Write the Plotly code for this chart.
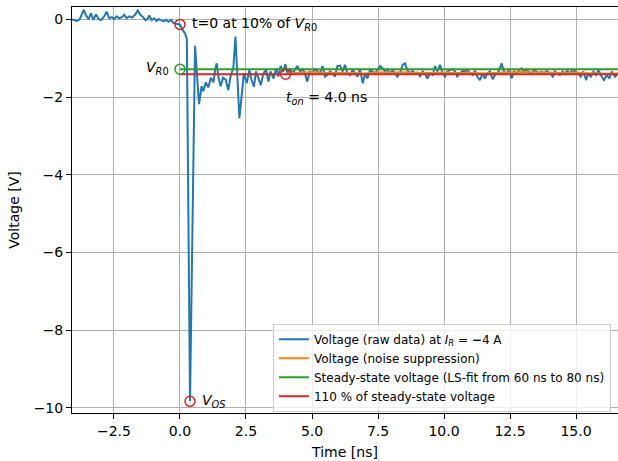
import plotly.graph_objects as go

# ---- data (time in ns, voltage in V) ----
t_raw = [-4.10, -4.06, -3.91, -3.81, -3.72, -3.64, -3.56, -3.46, -3.37, -3.28, -3.18, -3.08, -2.99,
         -2.88, -2.78, -2.68, -2.58, -2.49, -2.40, -2.30, -2.20, -2.11, -2.02, -1.92, -1.82,
         -1.70, -1.60, -1.50, -1.40, -1.31, -1.23, -1.16, -1.07, -0.98, -0.89, -0.81, -0.72,
         -0.62, -0.53, -0.44, -0.34, -0.25, -0.15, -0.06, 0.00,
         0.10, 0.19, 0.26, 0.38, 0.57, 0.72, 0.82, 0.88, 0.98, 1.07, 1.17, 1.27, 1.33, 1.39,
         1.46, 1.54, 1.63, 1.73, 1.83, 1.92, 2.02, 2.10, 2.25,
         2.34, 2.42, 2.53, 2.63, 2.71, 2.80, 2.88, 2.97, 3.06, 3.16, 3.26, 3.35, 3.43, 3.54,
         3.64, 3.73, 3.81, 3.91, 3.99, 4.07, 4.17, 4.27, 4.36, 4.44, 4.55, 4.65, 4.73, 4.82,
         4.92, 5.03, 5.11, 5.20, 5.30, 5.40, 5.49, 5.58, 5.68, 5.78, 5.87, 5.96, 6.06, 6.16,
         6.25, 6.34, 6.44, 6.54, 6.63, 6.72, 6.82, 6.92, 7.01, 7.10, 7.20, 7.30, 7.39, 7.47,
         7.58, 7.68, 7.77, 7.85, 7.95, 8.06, 8.14, 8.23, 8.33, 8.43, 8.52, 8.61, 8.71, 8.81,
         8.90, 8.99, 9.09, 9.19, 9.28, 9.37, 9.47, 9.57, 9.66, 9.75, 9.85, 9.95, 10.04, 10.13,
         10.23, 10.33, 10.42, 10.50, 10.61, 10.71, 10.80, 10.88, 10.99, 11.09, 11.17, 11.26,
         11.36, 11.46, 11.55, 11.64, 11.74, 11.84, 11.93, 12.02, 12.12, 12.18, 12.27, 12.37,
         12.47, 12.56, 12.65, 12.75, 12.85, 12.94, 13.03, 13.13, 13.23, 13.32, 13.41, 13.51,
         13.61, 13.70, 13.79, 13.89, 14.02, 14.12, 14.20, 14.29, 14.39, 14.49, 14.58, 14.67,
         14.77, 14.87, 14.96, 15.09, 15.18, 15.28, 15.38, 15.47, 15.56, 15.66, 15.76, 15.85,
         15.97, 16.06, 16.16, 16.26, 16.35, 16.48, 16.59, 16.70]
v_raw = [0.00, -0.01, -0.04, -0.01, 0.12, 0.25, 0.10, 0.01, 0.16, -0.01, 0.13, 0.01, -0.02,
         0.07, 0.20, 0.03, 0.06, 0.01, 0.08, 0.03, 0.06, 0.12, 0.03, 0.08, 0.05,
         0.12, 0.23, 0.12, 0.06, -0.02, 0.01, 0.10, -0.02, 0.03, -0.04, 0.01, -0.02,
         -0.05, -0.01, -0.06, -0.01, -0.09, -0.11, -0.12, -0.13,
         -0.27, -0.36, -0.50, -9.83, -0.68, -2.18, -1.72, -1.85, -1.62, -1.75, -1.50, -1.62, -1.30, -1.13,
         -1.50, -1.72, -1.50, -1.55, -1.82, -1.45, -1.25, -0.44, -2.55,
         -1.82, -1.39, -1.64, -1.30, -1.56, -1.73, -1.34, -1.52, -1.69, -1.39, -1.30, -1.60, -1.34, -1.52,
         -1.26, -1.47, -1.20, -1.34, -1.15, -1.39, -1.26, -1.39, -1.30, -1.20, -1.34, -1.28, -1.39, -1.60,
         -1.34, -1.39, -1.28, -1.34, -1.39, -1.20, -1.47, -1.43, -1.34, -1.39, -1.47, -1.20, -1.19, -1.34,
         -1.17, -1.39, -1.43, -1.30, -1.39, -1.47, -1.28, -1.64, -1.39, -1.52, -1.30, -1.34, -1.39, -1.30,
         -1.20, -1.26, -1.34, -1.28, -1.39, -1.30, -1.39, -1.47, -1.39, -1.17, -1.13, -1.30, -1.39, -1.32,
         -1.39, -1.37, -1.46, -1.34, -1.39, -1.52, -1.39, -1.43, -1.20, -1.34, -1.17, -1.39, -1.47, -1.34,
         -1.30, -1.28, -1.34, -1.47, -1.39, -1.32, -1.34, -1.30, -1.39, -1.43, -1.32, -1.47,
         -1.56, -1.39, -1.52, -1.39, -1.34, -1.54, -1.43, -1.39, -1.26, -1.13, -1.34, -1.39,
         -1.30, -1.52, -1.34, -1.39, -1.30, -1.26, -1.34, -1.28, -1.37, -1.39, -1.30, -1.34,
         -1.39, -1.34, -1.39, -1.32, -1.39, -1.47, -1.34, -1.39, -1.43, -1.34, -1.39, -1.32,
         -1.39, -1.30, -1.34, -1.39, -1.47, -1.34, -1.56, -1.39, -1.47, -1.34, -1.43, -1.30,
         -1.47, -1.56, -1.43, -1.52, -1.34, -1.47, -1.39, -1.42]

t_filt = [4.0, 4.5, 5.0, 5.5, 6.0, 6.5, 7.0, 7.5, 8.0, 8.5, 9.0, 9.5, 10.0, 10.5, 11.0,
          11.5, 12.0, 12.5, 13.0, 13.5, 14.0, 14.5, 15.0, 15.5, 16.0, 16.7]
v_filt = [-1.40, -1.37, -1.36, -1.38, -1.37, -1.38, -1.39, -1.36, -1.37, -1.36, -1.38, -1.38,
          -1.37, -1.38, -1.37, -1.39, -1.37, -1.36, -1.35, -1.36, -1.37, -1.38, -1.37, -1.39,
          -1.40, -1.39]

t_steady = [0.0, 16.7]
v_r0 = -1.28
v_steady = [v_r0, v_r0]
v_110 = [1.1 * v_r0, 1.1 * v_r0]

t0, v_t0 = 0.0, -0.128        # t=0 at 10 % of V_R0
t_on, v_on = 4.0, 1.1 * v_r0  # turn-on time
t_os, v_os = 0.38, -9.83      # overshoot

x_ticks = [-2.5, 0.0, 2.5, 5.0, 7.5, 10.0, 12.5, 15.0]
y_ticks = [-10, -8, -6, -4, -2, 0]

BLUE, ORANGE, GREEN, RED = "#1f77b4", "#ff7f0e", "#2ca02c", "#d62728"
FONT = "DejaVu Sans"

fig = go.Figure()
fig.add_trace(go.Scatter(x=t_raw, y=v_raw, mode="lines", line=dict(color=BLUE, width=2),
                         name="Voltage (raw data) at <i>I</i><sub><i>R</i></sub> = <b>−</b>4 A"))
fig.add_trace(go.Scatter(x=t_filt, y=v_filt, mode="lines", line=dict(color=ORANGE, width=2),
                         name="Voltage (noise suppression)"))
fig.add_trace(go.Scatter(x=t_steady, y=v_steady, mode="lines", line=dict(color=GREEN, width=2),
                         name="Steady-state voltage (LS-fit from 60 ns to 80 ns)"))
fig.add_trace(go.Scatter(x=t_steady, y=v_110, mode="lines", line=dict(color=RED, width=2),
                         name="110 % of steady-state voltage"))
fig.add_trace(go.Scatter(x=[t0, t_on, t_os], y=[v_t0, v_on, v_os], mode="markers",
                         marker=dict(symbol="circle-open", size=10, color=RED, line=dict(width=1.5)),
                         showlegend=False, hoverinfo="skip"))
fig.add_trace(go.Scatter(x=[t0], y=[v_r0], mode="markers",
                         marker=dict(symbol="circle-open", size=10, color=GREEN, line=dict(width=1.5)),
                         showlegend=False, hoverinfo="skip"))

ann_font = dict(family=FONT, size=14, color="black")
fig.add_annotation(x=t0, y=v_t0, text="t=0 at 10% of <i>V</i><sub><i>R</i>0</sub>", showarrow=False,
                   xanchor="left", yanchor="middle", xshift=10, yshift=0, font=ann_font)
fig.add_annotation(x=t0, y=v_r0, text="<i>V</i><sub><i>R</i>0</sub>", showarrow=False,
                   xanchor="right", yanchor="middle", xshift=-9, yshift=1, font=ann_font)
fig.add_annotation(x=t_on, y=v_on, text="<i>t</i><sub><i>on</i></sub> = 4.0 ns", showarrow=False,
                   xanchor="left", yanchor="middle", xshift=-2, yshift=-24, font=ann_font)
fig.add_annotation(x=t_os, y=v_os, text="<i>V</i><sub><i>OS</i></sub>", showarrow=False,
                   xanchor="left", yanchor="middle", xshift=10, yshift=0, font=ann_font)

fig.update_layout(
    width=618, height=461,
    margin=dict(l=72, r=0, t=7, b=48),
    paper_bgcolor="white", plot_bgcolor="white",
    font=dict(family=FONT, size=14, color="black"),
    showlegend=True,
    legend=dict(x=0.368, y=0.22, xanchor="left", yanchor="top",
                bgcolor="rgba(255,255,255,0.8)", bordercolor="#cccccc", borderwidth=1,
                font=dict(family=FONT, size=12), itemwidth=30, tracegroupgap=0),
)
fig.update_xaxes(range=[-4.09, 16.59], tickvals=x_ticks, tickformat=".1f",
                 showgrid=True, gridcolor="#b0b0b0", gridwidth=1,
                 showline=True, linecolor="black", linewidth=1, mirror=True,
                 ticks="outside", ticklen=5, tickcolor="black", zeroline=False,
                 title=dict(text="Time [ns]", font=dict(size=14), standoff=9))
fig.update_yaxes(range=[-10.13, 0.32], tickvals=y_ticks,
                 showgrid=True, gridcolor="#b0b0b0", gridwidth=1,
                 showline=True, linecolor="black", linewidth=1, mirror=False,
                 ticks="outside", ticklen=5, tickcolor="black", zeroline=False,
                 title=dict(text="Voltage [V]", font=dict(size=14), standoff=10))

fig.write_html("out.html")
